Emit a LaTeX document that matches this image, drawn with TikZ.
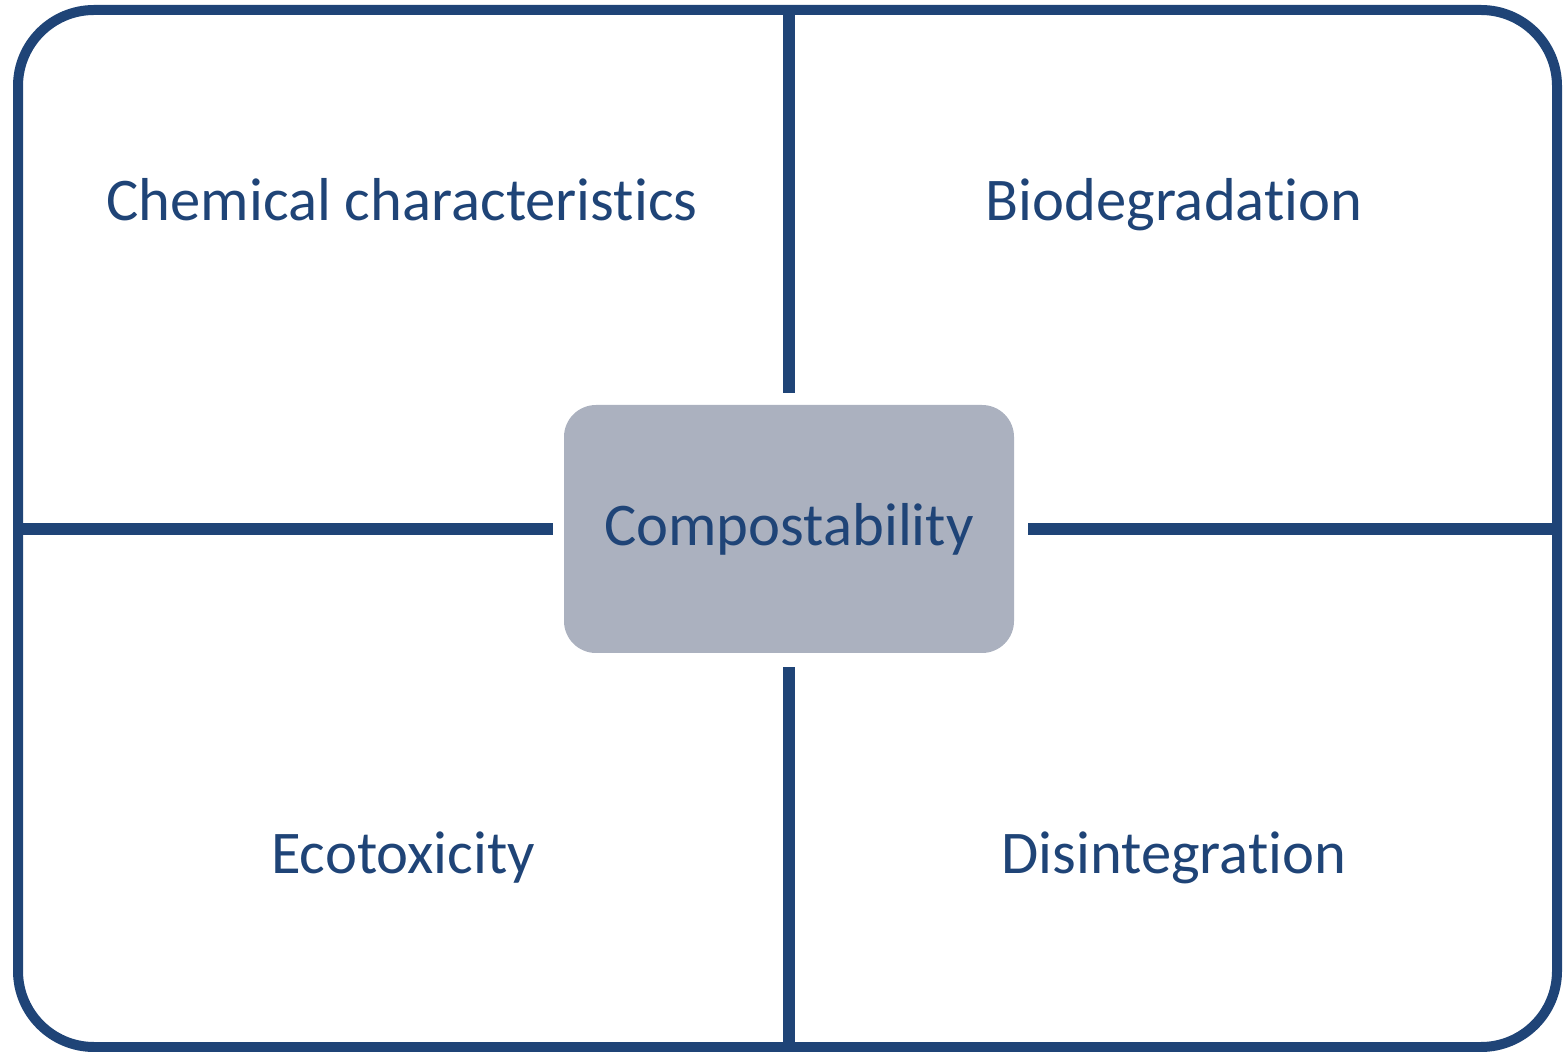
\documentclass[tikz,border=0pt]{standalone}
\usepackage{fontspec}
\setmainfont[Ligatures=NoCommon]{Carlito}
\usetikzlibrary{positioning}

\definecolor{lineBlue}{HTML}{1F4477}
\definecolor{boxGray}{HTML}{ABB1BF}

\newcommand{\frameThick }{5pt}
\newcommand{\linThick }{5.8pt}
\newcommand{\midx }{789}
\newcommand{\midy }{529}
\newcommand{\gapLen }{6pt}

\tikzset{
  frame/.style   = {line width=\frameThick, lineBlue, rounded corners=38pt},
  divider/.style = {line width=\linThick, lineBlue, shorten >=\gapLen},
  centrebox/.style = {fill=boxGray, rounded corners=16pt, minimum width=225pt,
                      minimum height=124pt, text=lineBlue, font=\fontsize{30.3}{36}\selectfont},
  quadlabel/.style = {anchor=base, text=lineBlue, inner sep=0pt, font=\fontsize{30.3}{36}\selectfont}
}

\begin{document}
\begin{tikzpicture}[x=0.5pt, y=-0.5pt]

  \useasboundingbox (0,0) rectangle (1563,1052);

  % Frame:
  \draw[frame] (18,10) rectangle (1557,1047);
  \coordinate (top)    at (\midx , 10);
  \coordinate (bottom) at (\midx , 1047);
  \coordinate (left)   at (18  , \midy );
  \coordinate (right)  at (1557, \midy );

  % Centre:
  \node[centrebox] (comp) at (\midx , \midy ) {Compostability};

  % Dividers:
  \draw[divider] (top)    -- (comp.north);
  \draw[divider, shorten >=7pt] (bottom) -- (comp.south);
  \draw[divider, shorten >=5.5pt] (left)  -- (comp.west);
  \draw[divider, shorten >=7pt]   (right) -- (comp.east);

  % Quadrants:
  \node[quadlabel] (chem) at (402 , 221) {Chemical characteristics};
  \node[quadlabel] (bio)  at (1174, 221) {Biodegradation};
  \node[quadlabel] (eco)  at (403 , 873) {Ecotoxicity};
  \node[quadlabel] (dis)  at (1174, 873) {Disintegration};

\end{tikzpicture}
\end{document}
